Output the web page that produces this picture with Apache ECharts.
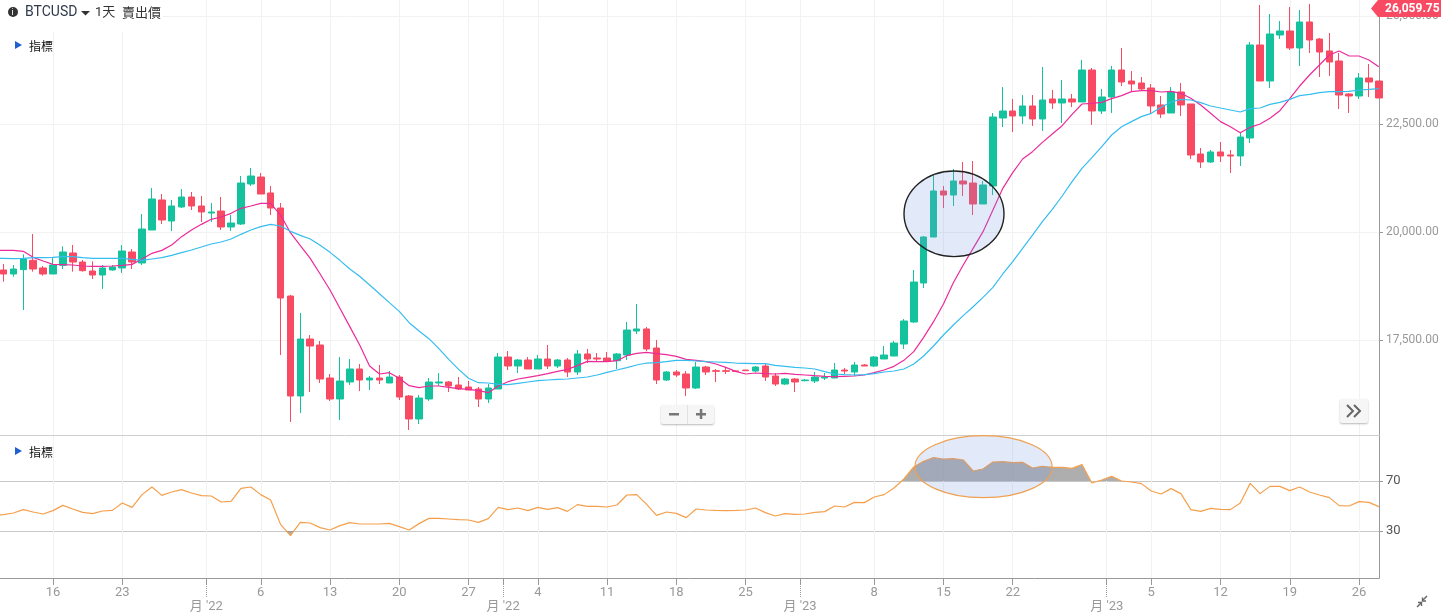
<!DOCTYPE html>
<html>
<head>
<meta charset="utf-8">
<style>html,body{margin:0;padding:0;background:#fff}#main{width:1441px;height:612px}</style>
<script src="https://cdn.jsdelivr.net/npm/echarts@6/dist/echarts.min.js"></script>
</head>
<body>
<div id="main"></div>
<script>
/** candle values, one entry per daily bar */
var opens = [19120,19028,19128,19344,19167,19028,19228,19514,19305,19097,19004,19120,19167,19537,19282,20046,20741,20254,20579,20810,
  20602,20440,20486,20116,20185,21111,21273,20903,20555,18518,16204,17523,17384,16620,16134,16528,16829,16574,16620,16505,
  16643,16204,15671,16134,16505,16528,16458,16412,16366,16134,16366,17106,16898,17037,16829,17060,16898,17037,16759,17176,
  17083,17083,17021,17153,17708,17755,17315,16574,16759,16713,16389,16875,16790,16790,16785,16805,16782,16898,16667,16481,
  16597,16558,16551,16620,16620,16805,16759,16921,16898,17060,17129,17407,17917,18819,19884,20949,20856,21180,21134,20648,
  21065,22639,22801,22685,22917,22616,23079,22986,23079,23009,23750,22801,23125,23750,23495,23449,23333,22940,22754,23241,
  22963,21805,21620,21852,21782,21759,22176,24329,23495,24560,24653,24259,24861,24467,24190,23958,23194,23148,23565,23495];
var closes = [19028,19143,19375,19143,19028,19236,19537,19305,19105,19004,19167,19190,19560,19305,20069,20764,20278,20602,20810,20602,
  20463,20463,20116,20208,21134,21296,20879,20555,18472,16204,17523,17361,16597,16134,16551,16829,16574,16620,16574,16643,
  16180,15671,16157,16528,16528,16435,16366,16342,16134,16389,17106,16898,17037,16829,17060,16898,17037,16759,17176,17060,
  17060,17006,17176,17731,17755,17292,16574,16759,16690,16389,16875,16759,16775,16775,16770,16790,16875,16643,16481,16597,
  16528,16574,16643,16643,16805,16782,16921,16898,17106,17153,17430,17940,18842,19884,20949,20856,21180,21111,20648,21088,
  22662,22801,22685,22917,22616,23055,22986,23079,23009,23750,22801,23125,23750,23472,23426,23310,22917,22731,23241,22940,
  21782,21620,21852,21759,21759,22199,24329,23495,24583,24653,24259,24861,24444,24166,23935,23171,23148,23565,23472,23102];
var lows = [18850,18966,18194,19082,18989,19028,19143,19082,19082,18912,18680,19105,19051,19143,19236,20046,20185,20023,20555,20509,
  20231,20231,20046,20023,20162,21065,20879,20393,17153,15602,15810,16296,16505,16088,15648,16458,16319,16342,16481,16505,
  16111,15417,15555,16088,16435,16296,16342,16342,15949,16042,16366,16805,16736,16829,16829,16829,16852,16643,16690,16967,
  16991,16991,16829,17037,17639,17245,16481,16551,16643,16204,16366,16690,16528,16713,16759,16790,16759,16551,16435,16458,
  16296,16543,16505,16574,16620,16713,16667,16898,16875,17060,17129,17292,17893,18704,19884,20555,20602,20833,20393,20648,
  20856,22430,22315,22500,22454,22338,22847,22523,22893,23009,22477,22731,22754,23379,23241,23287,22754,22639,22754,22685,
  21690,21481,21597,21620,21366,21528,22060,23495,23333,24467,24213,23842,24143,23588,23611,22847,22754,23079,23125,23102];
var highs = [19259,19236,19483,19954,19213,19413,19668,19699,19352,19321,19236,19236,19699,19606,20417,21018,20879,20741,20995,20926,
  20833,20671,20810,20393,21296,21481,21366,21065,20671,18542,18125,17616,17477,16713,17106,17060,16944,16667,16921,16782,
  16690,16227,16227,16620,16736,16551,16643,16551,16412,16481,17199,17245,17060,17106,17153,17384,17060,17083,17268,17292,
  17199,17222,17199,17917,18333,17801,17500,16782,16805,16782,16991,16898,16829,16875,16790,16805,16898,16967,16736,16620,
  16620,16597,16759,16736,16967,16852,16991,16944,17129,17361,17477,17986,19120,19907,21342,21065,21458,21620,21643,21180,
  22754,23356,23079,23171,23171,23819,23287,23518,23194,23981,23796,23310,23842,24259,23727,23588,23426,23148,23356,23449,
  22963,21944,21898,22083,21898,22292,24398,25254,25046,24884,25208,25139,25278,24491,24606,24143,23217,23680,23889,23495];

/** two moving averages */
var maFast = [19575,19575,19552,19413,19329,19251,19244,19236,19213,19205,19205,19213,19228,19251,19375,19506,19575,19699,19892,20046,
  20177,20293,20347,20432,20548,20602,20663,20663,20393,19984,19684,19390,19028,18657,18233,17809,17384,16898,16713,16744,
  16613,16443,16396,16435,16435,16404,16373,16358,16327,16281,16435,16535,16597,16636,16674,16721,16775,16821,16906,17006,
  16998,16998,17021,17137,17191,17214,17184,17160,17122,17052,17029,16998,16944,16867,16775,16713,16736,16721,16713,16728,
  16705,16690,16674,16659,16651,16659,16667,16690,16744,16805,16890,17029,17230,17562,17924,18333,18827,19236,19622,20008,
  20509,21011,21373,21690,21859,22075,22268,22461,22724,22963,22978,23001,23086,23156,23248,23271,23271,23241,23256,23210,
  23094,22940,22747,22554,22438,22299,22423,22500,22631,22808,23086,23379,23634,23866,24097,24190,24074,24074,23981,23827];
var maSlow = [19390,19383,19390,19406,19406,19413,19429,19429,19406,19390,19390,19390,19390,19367,19344,19375,19406,19460,19521,19583,
  19653,19722,19768,19838,19946,20046,20123,20177,20139,20015,19923,19838,19691,19529,19344,19143,18974,18773,18572,18364,
  18163,17901,17708,17531,17299,17052,16821,16613,16512,16505,16474,16466,16497,16528,16558,16574,16589,16597,16620,16643,
  16690,16751,16805,16859,16921,16967,16975,16998,17029,17029,17014,16998,16991,16983,16967,16960,16952,16952,16913,16890,
  16867,16852,16829,16767,16713,16697,16690,16697,16721,16759,16782,16829,16944,17129,17361,17616,17847,18063,18271,18488,
  18719,19028,19313,19622,19930,20239,20525,20833,21165,21474,21721,21975,22245,22438,22554,22670,22747,22886,23009,23071,
  23055,22994,22917,22870,22824,22778,22855,22870,22955,23001,23071,23156,23187,23225,23248,23248,23256,23287,23302,23318];

/** lower panel indicator */
var rsi = [43.1,44.4,47.1,45.2,43.6,46.3,50.5,47.6,44.9,43.9,46,46.5,52.4,48.9,59.1,65.2,58.5,61.2,63.1,60.4,
  58.3,58,53.2,53.7,64.1,65.2,59.1,54.8,35.3,26.3,36.9,36.4,32.7,30.8,34.3,36.7,35.6,35.6,35.6,36.1,
  33.5,30.8,35.9,40.1,40.1,39.6,39.1,38.8,36.9,39.9,48.9,47.1,48.4,46.3,48.9,47.3,48.7,45.7,51.1,49.7,
  49.7,49.2,50.8,58.8,59.1,51.3,42.5,45.2,44.1,40.7,47.6,46.8,46.5,46.3,46.5,46.8,48.4,44.7,42,43.9,
  43.3,43.6,44.9,45.5,50,49.2,52.9,52.7,57.2,59.1,64.4,71.6,81.2,85.7,88.7,87.6,87.9,86.8,78,79.6,
  85.2,85.5,84.7,84.9,80.4,81.7,80.9,80.9,80.1,83.1,68.4,70.8,73.7,70,69.2,67.9,62,59.6,63.9,59.9,
  47.1,45.7,48.1,47.3,47.1,52.4,68.1,59.9,65.7,65.7,62.3,65.2,61.2,58.8,56.7,50.3,50,53.5,52.9,49.5];

/** the bar just left of the view, lines come in from it */
var prevFast = 19575;
var prevSlow = 19390;
var prevRsi = 42.6;

/** axis ticks, counted in bars */
var dateTicks = [5,12,26,33,40,47,54,61,68,75,88,95,102,116,123,130,137];
var dateLabels = ['16','23','6','13','20','27','4','11','18','25','8','15','22','5','12','19','26'];
var monthTicks = [20.5,50.5,80.5,111.5];
var monthLabels = ["月 '22","月 '22","月 '23","月 '23"];
var priceTicks = [17500,20000,22500,25000];
var rsiTicks = [30,70];
var lastPrice = '26,059.75';

var barRange = [-0.354, 139.02];
var priceRange = [15301, 25370];
var rsiRange = [-7.6, 106];

var upColor = '#14c39d';
var downColor = '#f94a63';
var gridColor = '#f2f2f2';
var ellipseFill = 'rgba(119,152,224,0.21)';
var textFont = 'Roboto, "Noto Sans CJK TC", sans-serif';

var candleData = [];
var fastData = [[-1, prevFast]], slowData = [[-1, prevSlow]], rsiData = [[-1, prevRsi]];
for (var i = 0; i < opens.length; i++) {
    candleData.push([i, opens[i], closes[i], lows[i], highs[i]]);
    fastData.push([i, maFast[i]]);
    slowData.push([i, maSlow[i]]);
    rsiData.push([i, rsi[i]]);
}

function priceLabel(v) {
    return v.toLocaleString('en-US', {minimumFractionDigits: 2, maximumFractionDigits: 2});
}

// small helpers for the chart furniture
function label(x, y, text, size, color, family) {
    return {type: 'text', x: x, y: y, z: 21, silent: true, style: {
        text: text, fill: color, font: size + 'px ' + (family || textFont), textVerticalAlign: 'middle'
    }};
}
function tri(points, color) {
    return {type: 'polygon', z: 21, silent: true, shape: {points: points}, style: {fill: color}};
}
function path(points, color, width) {
    return {type: 'polyline', z: 21, silent: true, shape: {points: points}, style: {stroke: color, lineWidth: width, fill: null}};
}

var furniture = [
    // header
    {type: 'rect', z: 20, silent: true, shape: {x: 0, y: 0, width: 163, height: 32}, style: {fill: '#fff'}},
    {type: 'circle', z: 21, silent: true, shape: {cx: 13, cy: 12, r: 5}, style: {fill: '#333'}},
    label(11.6, 12.5, 'i', 9, '#fff', 'Roboto'),
    label(25, 12.5, 'BTCUSD', 14, '#2f3a4a'),
    tri([[81, 11], [90, 11], [85.5, 15.5]], '#333'),
    label(95, 12.5, '1天', 13, '#333'),
    label(122, 12.5, '賣出價', 13, '#333', '"Noto Sans CJK TC"'),
    tri([[15, 41], [22, 45], [15, 49]], '#1f5fd0'),
    label(29, 46.5, '指標', 12, '#111', '"Noto Sans CJK TC"'),
    tri([[15, 447], [22, 451], [15, 455]], '#1f5fd0'),
    label(29, 452.5, '指標', 12, '#111', '"Noto Sans CJK TC"'),
    // annotation ellipses
    {type: 'ellipse', z: 15, silent: true, shape: {cx: 954, cy: 213.8, rx: 50, ry: 42.8},
        style: {fill: ellipseFill, stroke: '#222', lineWidth: 1.4}},
    {type: 'ellipse', z: 15, silent: true, shape: {cx: 983.5, cy: 466.7, rx: 68.6, ry: 31},
        style: {fill: ellipseFill, stroke: '#f0a050', lineWidth: 1.2}},
    // last price badge
    tri([[1371, 8.5], [1378, 0], [1441, 0], [1441, 17], [1378, 17]], downColor),
    label(1385, 8.5, lastPrice, 'bold 12', '#fff', 'Roboto'),
    // zoom buttons
    {type: 'rect', z: 20, silent: true, shape: {x: 661, y: 405, width: 53, height: 19, r: 2},
        style: {fill: '#f6f6f6', shadowColor: 'rgba(0,0,0,0.28)', shadowBlur: 2, shadowOffsetY: 1}},
    {type: 'rect', z: 21, silent: true, shape: {x: 687, y: 405, width: 1, height: 19}, style: {fill: '#e2e2e2'}},
    {type: 'rect', z: 21, silent: true, shape: {x: 669, y: 413, width: 10, height: 2.5}, style: {fill: '#777'}},
    {type: 'rect', z: 21, silent: true, shape: {x: 696, y: 413, width: 10, height: 2.5}, style: {fill: '#777'}},
    {type: 'rect', z: 21, silent: true, shape: {x: 699.8, y: 409, width: 2.5, height: 10}, style: {fill: '#777'}},
    // scroll button
    {type: 'rect', z: 20, silent: true, shape: {x: 1340, y: 399, width: 28, height: 24, r: 2},
        style: {fill: '#f6f6f6', shadowColor: 'rgba(0,0,0,0.28)', shadowBlur: 2, shadowOffsetY: 1}},
    path([[1347, 405], [1353, 411], [1347, 417]], '#666', 2),
    path([[1354, 405], [1360, 411], [1354, 417]], '#666', 2),
    // expand icon
    path([[1417, 607], [1421, 603]], '#666', 1.4),
    path([[1418, 602.5], [1421.5, 602.5], [1421.5, 606]], '#666', 1.4),
    path([[1427, 596], [1423, 600]], '#666', 1.4),
    path([[1426, 601], [1422.5, 601], [1422.5, 597.5]], '#666', 1.4)
];

var myChart = echarts.init(document.getElementById('main'), null, {renderer: 'canvas'});
myChart.setOption({
    animation: false,
    backgroundColor: '#fff',
    grid: [
        {left: 0, right: 62, top: 0, height: 435, outerBoundsMode: 'none'},
        {left: 0, right: 62, top: 436, height: 142, outerBoundsMode: 'none'}
    ],
    graphic: furniture,
    xAxis: [
        {
            type: 'value', gridIndex: 0, position: 'bottom', min: barRange[0], max: barRange[1],
            axisLine: {show: true, onZero: false, lineStyle: {color: '#cfcfcf', width: 1}},
            axisLabel: {show: false},
            axisTick: {show: false, customValues: dateTicks.concat(monthTicks)},
            splitLine: {show: true, lineStyle: {color: gridColor, width: 1}}
        },
        {
            type: 'value', gridIndex: 1, position: 'bottom', min: barRange[0], max: barRange[1],
            axisLine: {show: true, onZero: false, lineStyle: {color: '#999', width: 1}},
            axisTick: {show: true, length: 7, lineStyle: {color: '#999'}, customValues: dateTicks.concat(monthTicks)},
            axisLabel: {
                color: '#999', fontFamily: textFont, fontSize: 13, margin: 8,
                customValues: dateTicks,
                formatter: function (v) { return dateLabels[dateTicks.indexOf(v)]; }
            },
            splitLine: {show: true, lineStyle: {color: gridColor, width: 1}}
        },
        {
            type: 'value', gridIndex: 1, position: 'bottom', min: barRange[0], max: barRange[1],
            axisLine: {show: false, onZero: false},
            axisTick: {show: true, length: 19, lineStyle: {color: '#999', type: 'dotted'}, customValues: monthTicks},
            axisLabel: {
                color: '#999', fontFamily: textFont, fontSize: 13, margin: 22,
                customValues: monthTicks,
                formatter: function (v) { return monthLabels[monthTicks.indexOf(v)]; }
            },
            splitLine: {show: false}
        }
    ],
    yAxis: [
        {
            type: 'value', gridIndex: 0, position: 'right', min: priceRange[0], max: priceRange[1],
            axisLine: {show: true, onZero: false, lineStyle: {color: '#999', width: 1}},
            axisTick: {show: true, length: 4, lineStyle: {color: '#999'}, customValues: priceTicks},
            axisLabel: {
                color: '#999', fontFamily: 'Roboto', fontSize: 12, margin: 7,
                customValues: priceTicks, formatter: priceLabel
            },
            splitLine: {show: true, lineStyle: {color: gridColor, width: 1}}
        },
        {
            type: 'value', gridIndex: 1, position: 'right', min: rsiRange[0], max: rsiRange[1],
            axisLine: {show: true, onZero: false, lineStyle: {color: '#999', width: 1}},
            axisTick: {show: true, length: 4, lineStyle: {color: '#999'}, customValues: rsiTicks},
            axisLabel: {color: '#555', fontFamily: 'Roboto', fontSize: 13, margin: 7, customValues: rsiTicks},
            splitLine: {show: true, lineStyle: {color: '#c8c8c8', width: 1}}
        }
    ],
    series: [
        {
            name: 'BTCUSD', type: 'candlestick', xAxisIndex: 0, yAxisIndex: 0, barWidth: 7,
            data: candleData,
            itemStyle: {color: upColor, color0: downColor, borderColor: upColor, borderColor0: downColor, borderWidth: 1}
        },
        {
            name: 'MA fast', type: 'line', xAxisIndex: 0, yAxisIndex: 0, data: fastData,
            symbol: 'none', lineStyle: {color: '#ec2a9a', width: 1.2}, z: 3
        },
        {
            name: 'MA slow', type: 'line', xAxisIndex: 0, yAxisIndex: 0, data: slowData,
            symbol: 'none', lineStyle: {color: '#35bdf0', width: 1.2}, z: 3
        },
        {
            name: 'RSI', type: 'line', xAxisIndex: 1, yAxisIndex: 1, data: rsiData,
            symbol: 'none', lineStyle: {color: '#f59f4c', width: 1.2},
            // only the parts past 70 and 30 are filled
            areaStyle: {
                origin: 70, opacity: 1,
                color: {
                    type: 'linear', x: 0, y: 481, x2: 0, y2: 531, global: true,
                    colorStops: [
                        {offset: 0, color: 'rgba(130,130,130,0.65)'},
                        {offset: 0, color: 'rgba(130,130,130,0)'},
                        {offset: 1, color: 'rgba(130,130,130,0)'},
                        {offset: 1, color: 'rgba(130,130,130,0.65)'}
                    ]
                }
            }
        }
    ]
});
</script>
</body>
</html>
